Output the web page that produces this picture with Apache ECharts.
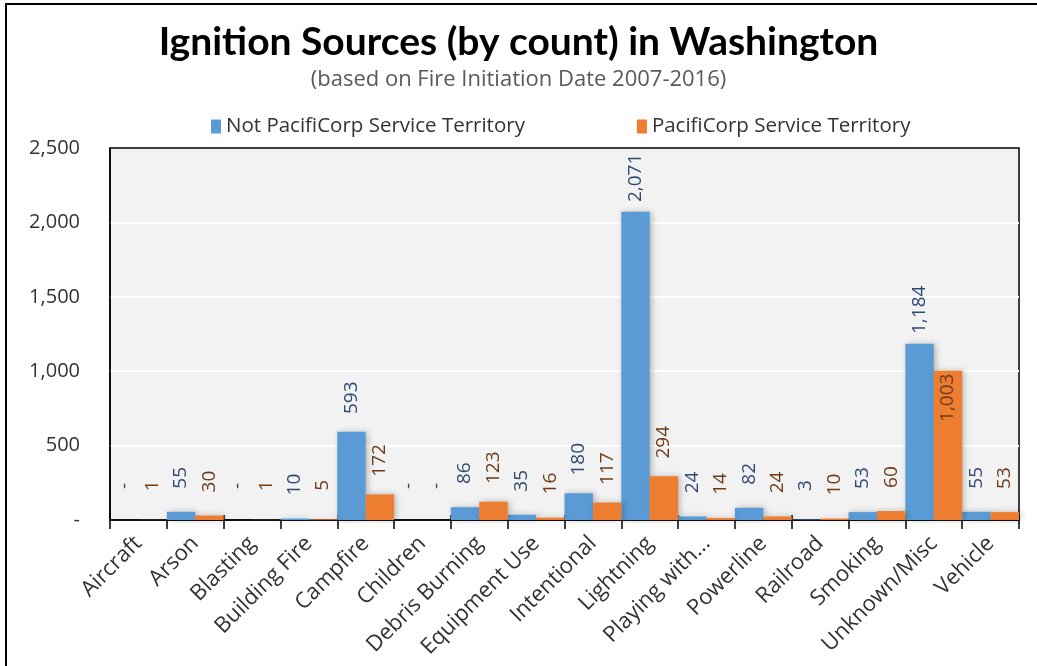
<!DOCTYPE html>
<html>
<head>
<meta charset="utf-8">
<script src="https://cdn.jsdelivr.net/npm/echarts@6/dist/echarts.min.js"></script>
<style>
  html, body { margin: 0; padding: 0; background: #fff; }
  #chart { width: 1037px; height: 666px; }
  .frame {
    position: absolute; left: 5px; top: 3px; right: 0; bottom: 0;
    border-left: 2px solid #000; border-top: 2px solid #000;
    pointer-events: none;
  }
</style>
</head>
<body>
<div id="chart"></div>
<div class="frame"></div>
<script>
const categories = ["Aircraft", "Arson", "Blasting", "Building Fire", "Campfire", "Children",
  "Debris Burning", "Equipment Use", "Intentional", "Lightning", "Playing with...",
  "Powerline", "Railroad", "Smoking", "Unknown/Misc", "Vehicle"];
const notPacifiCorp = [0, 55, 0, 10, 593, 0, 86, 35, 180, 2071, 24, 82, 3, 53, 1184, 55];
const pacifiCorp = [1, 30, 1, 5, 172, 0, 123, 16, 117, 294, 14, 24, 10, 60, 1003, 53];
const yTicks = [0, 500, 1000, 1500, 2000, 2500];

const TITLE_FONT = "Lato";
const FONT = "Open Sans";
const fmt = v => (v === 0 ? "-" : v.toLocaleString("en-US"));

let myChart = echarts.init(document.getElementById("chart"));

function barLabel(color) {
  return {
    show: true,
    position: "top",
    distance: 34,
    rotate: 90,
    align: "center",
    verticalAlign: "middle",
    fontFamily: FONT,
    fontSize: 19,
    color: color,
    formatter: p => fmt(p.value)
  };
}

// the 1,003 label sits inside the bar top in the original
let orangeData = pacifiCorp.map(v =>
  v > 1000
    ? { value: v, label: { position: "insideTop", distance: 27 } }
    : v
);

let barShadow = {
  shadowColor: "rgba(0,0,0,0.25)",
  shadowBlur: 6,
  shadowOffsetX: 2,
  shadowOffsetY: 0
};

let option = {
  animation: false,
  title: [
    {
      text: "Ignition Sources (by count) in Washington",
      left: "center",
      top: 18,
      textStyle: { fontFamily: TITLE_FONT, fontWeight: "bold", fontSize: 39, color: "#000" }
    },
    {
      text: "(based on Fire Initiation Date 2007-2016)",
      left: "center",
      top: 64,
      textStyle: { fontFamily: FONT, fontWeight: "normal", fontSize: 22, color: "#595959" }
    }
  ],
  legend: {
    top: 111,
    left: 206,
    itemGap: 112,
    itemWidth: 10,
    itemHeight: 14,
    icon: "rect",
    textStyle: { fontFamily: FONT, fontSize: 20.5, color: "#333" },
    data: ["Not PacifiCorp Service Territory", "PacifiCorp Service Territory"]
  },
  grid: {
    left: 110,
    right: 18,
    top: 148,
    bottom: 146,
    show: true,
    backgroundColor: "#F2F2F2",
    borderColor: "#000",
    borderWidth: 1.5
  },
  xAxis: [
    {
      type: "category",
      data: categories,
      axisLine: { lineStyle: { color: "#000", width: 1.5 } },
      axisTick: { show: true, length: 9, lineStyle: { color: "#000", width: 1.5 } },
      axisLabel: {
        interval: 0,
        rotate: 45,
        margin: 20,
        fontFamily: FONT,
        fontSize: 22,
        color: "#333"
      }
    },
    {
      type: "category",
      data: categories,
      position: "bottom",
      axisLine: { show: false },
      axisTick: { show: true, inside: true, length: 5, lineStyle: { color: "#000", width: 1.5 } },
      axisLabel: { show: false }
    }
  ],
  yAxis: {
    type: "value",
    min: yTicks[0],
    max: yTicks[yTicks.length - 1],
    interval: 500,
    axisLine: { show: true, lineStyle: { color: "#000", width: 1.5 } },
    axisTick: { show: false },
    splitLine: { showMinLine: false, showMaxLine: false, lineStyle: { color: "#FFFFFF", width: 2 } },
    axisLabel: {
      margin: 30,
      fontFamily: FONT,
      fontSize: 20,
      color: "#333",
      formatter: v => fmt(v)
    }
  },
  series: [
    {
      name: "Not PacifiCorp Service Territory",
      type: "bar",
      barGap: "0%",
      barCategoryGap: "0%",
      itemStyle: Object.assign({ color: "#5B9BD5" }, barShadow),
      label: barLabel("#2F4A72"),
      data: notPacifiCorp
    },
    {
      name: "PacifiCorp Service Territory",
      type: "bar",
      barGap: "0%",
      barCategoryGap: "0%",
      itemStyle: Object.assign({ color: "#ED7D31" }, barShadow),
      label: barLabel("#6E3A17"),
      data: orangeData
    }
  ]
};

myChart.setOption(option);
window.addEventListener("resize", () => myChart.resize());
</script>
</body>
</html>
